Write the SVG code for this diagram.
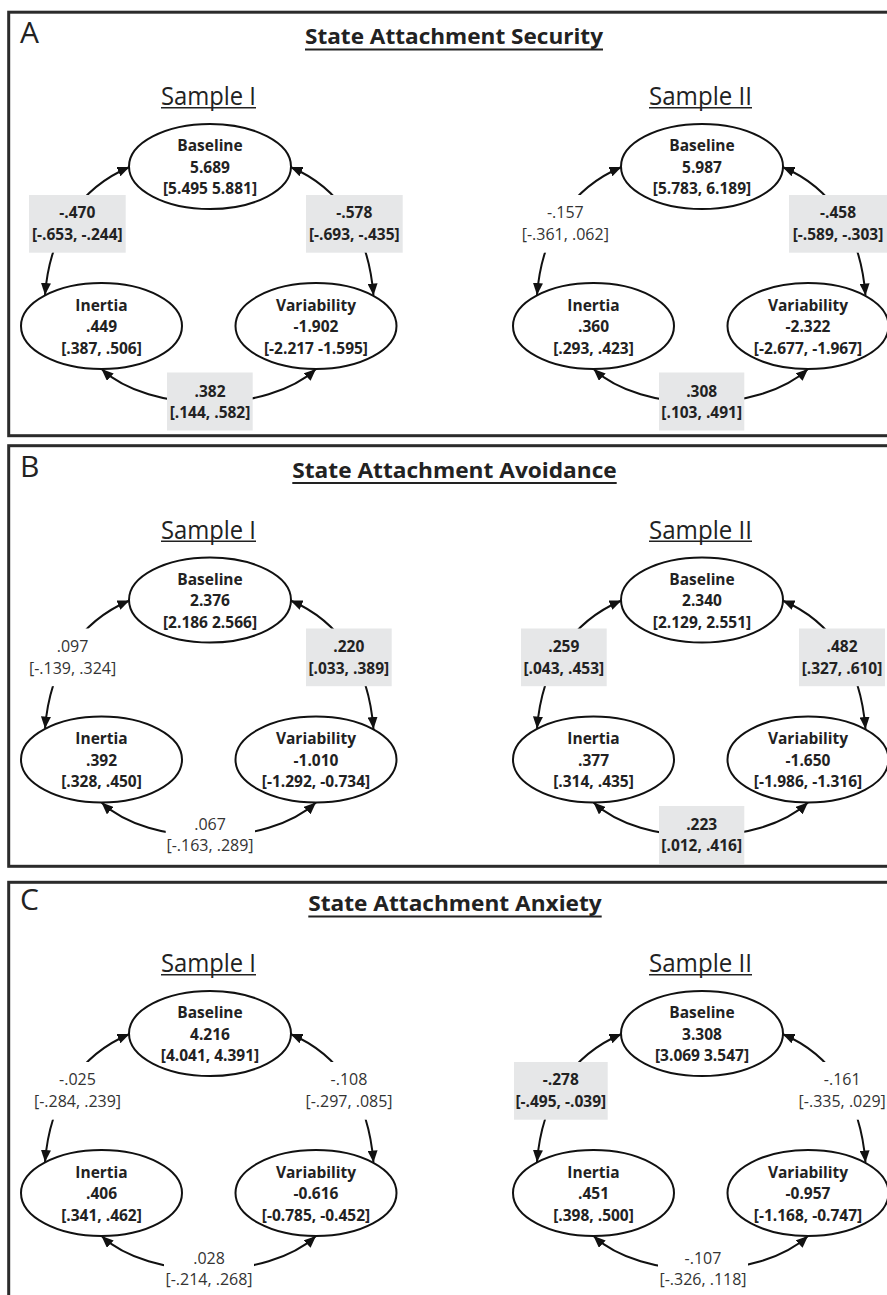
<svg xmlns="http://www.w3.org/2000/svg" width="887" height="1295" viewBox="0 0 887 1295">
<defs>
<style>
.border{fill:none;stroke:#2b2b2b;stroke-width:3}
.node ellipse{fill:#fff;stroke:#111;stroke-width:2}
.nt{font-family:"Open Sans","Noto Sans",sans-serif;font-weight:700;font-size:15.5px;fill:#222;text-anchor:middle}
.lbb{font-family:"Open Sans","Noto Sans",sans-serif;font-weight:700;font-size:15.5px;fill:#222;text-anchor:middle}
.lbp{font-family:"Open Sans","Noto Sans",sans-serif;font-weight:400;font-size:16px;fill:#333;text-anchor:middle}
.edge{fill:none;stroke:#111;stroke-width:2;marker-start:url(#ah);marker-end:url(#ah)}
.gb{fill:#e6e7e8}
.wb{fill:#fff}
.pl{font-family:"Open Sans","Noto Sans",sans-serif;font-size:30px;fill:#222}
.ttl{font-family:"Open Sans","Noto Sans",sans-serif;font-weight:700;font-size:22px;fill:#222;text-anchor:middle}
.smp{font-family:"Open Sans","Noto Sans",sans-serif;font-weight:400;font-size:25px;fill:#222;text-anchor:middle}
.ul2{stroke:#222;stroke-width:2}
.ul1{stroke:#222;stroke-width:1.5}
</style>
<marker id="ah" viewBox="0 0 12 10" refX="12" refY="5" markerWidth="12" markerHeight="10" markerUnits="userSpaceOnUse" orient="auto-start-reverse">
<path d="M0,0 L12,5 L0,10 z" fill="#111"/>
</marker>
</defs>
<rect width="887" height="1295" fill="#fff"/>

<g id="borders">
<rect class="border" x="8.7" y="12.2" width="900" height="423.5"/>
<rect class="border" x="8.7" y="445.7" width="900" height="420.6"/>
<rect class="border" x="8.7" y="882.3" width="900" height="500"/>
</g>

<!-- Panel A -->
<g id="panelA">
<text class="pl" x="20" y="42.5">A</text>
<text class="ttl" x="454" y="44.3" textLength="298" lengthAdjust="spacingAndGlyphs">State Attachment Security</text>
<line class="ul2" x1="305" y1="49.5" x2="603" y2="49.5"/>
<text class="smp" x="208.5" y="105" textLength="95" lengthAdjust="spacingAndGlyphs">Sample I</text>
<line class="ul1" x1="161" y1="107.8" x2="256" y2="107.8"/>
<text class="smp" x="700.5" y="105" textLength="103" lengthAdjust="spacingAndGlyphs">Sample II</text>
<line class="ul1" x1="649" y1="107.8" x2="752" y2="107.8"/>
<g id="A-connectors">
<path class="edge" d="M45,295 C50,232 80,188 129.5,167"/>
<path class="edge" d="M290.5,167 C340,188 368.5,232 373.5,295.5"/>
<path class="edge" d="M101.5,369 C150,414 267,414 316,369"/>
<g transform="translate(492,0)">
<path class="edge" d="M45,295 C50,232 80,188 129.5,167"/>
<path class="edge" d="M290.5,167 C340,188 368.5,232 373.5,295.5"/>
<path class="edge" d="M101.5,369 C150,414 267,414 316,369"/>
</g>
<rect class="gb" x="29" y="195" width="96.7" height="57.7"/><text class="lbb" x="77.3" y="218.3">-.470</text><text class="lbb" x="77.3" y="240">[-.653, -.244]</text>
<rect class="gb" x="306" y="195" width="96.7" height="57.7"/><text class="lbb" x="354.3" y="218.3">-.578</text><text class="lbb" x="354.3" y="240">[-.693, -.435]</text>
<rect class="gb" x="167" y="372.5" width="85.7" height="58"/><text class="lbb" x="210" y="396.7">.382</text><text class="lbb" x="210" y="417.7">[.144, .582]</text>
<rect class="wb" x="519.3" y="195" width="92" height="57.7"/><text class="lbp" x="565.3" y="218.3">-.157</text><text class="lbp" x="565.3" y="240">[-.361, .062]</text>
<rect class="gb" x="789" y="195" width="98" height="57.7"/><text class="lbb" x="838" y="218.3">-.458</text><text class="lbb" x="838" y="240">[-.589, -.303]</text>
<rect class="gb" x="659" y="372.5" width="85.3" height="58"/><text class="lbb" x="701.7" y="396.7">.308</text><text class="lbb" x="701.7" y="417.7">[.103, .491]</text>
</g>
<g id="A1-baseline" class="node"><ellipse cx="210" cy="166.5" rx="81" ry="42.5"/><text class="nt" x="210" y="151.2">Baseline</text><text class="nt" x="210" y="172.5">5.689</text><text class="nt" x="210" y="194">[5.495 5.881]</text></g>
<g id="A1-inertia" class="node"><ellipse cx="101.5" cy="326" rx="80.5" ry="43"/><text class="nt" x="101.5" y="310.8">Inertia</text><text class="nt" x="101.5" y="332">.449</text><text class="nt" x="101.5" y="353.5">[.387, .506]</text></g>
<g id="A1-variability" class="node"><ellipse cx="316" cy="326" rx="80.5" ry="43"/><text class="nt" x="316" y="310.8">Variability</text><text class="nt" x="316" y="332">-1.902</text><text class="nt" x="316" y="353.5">[-2.217 -1.595]</text></g>
<g transform="translate(492,0)">
<g id="A2-baseline" class="node"><ellipse cx="210" cy="166.5" rx="81" ry="42.5"/><text class="nt" x="210" y="151.2">Baseline</text><text class="nt" x="210" y="172.5">5.987</text><text class="nt" x="210" y="194">[5.783, 6.189]</text></g>
<g id="A2-inertia" class="node"><ellipse cx="101.5" cy="326" rx="80.5" ry="43"/><text class="nt" x="101.5" y="310.8">Inertia</text><text class="nt" x="101.5" y="332">.360</text><text class="nt" x="101.5" y="353.5">[.293, .423]</text></g>
<g id="A2-variability" class="node"><ellipse cx="316" cy="326" rx="80.5" ry="43"/><text class="nt" x="316" y="310.8">Variability</text><text class="nt" x="316" y="332">-2.322</text><text class="nt" x="316" y="353.5">[-2.677, -1.967]</text></g>
</g>
</g>

<!-- Panel B -->
<g id="panelB" transform="translate(0,433.5)">
<text class="pl" x="20" y="43">B</text>
<text class="ttl" x="454.5" y="44.3" textLength="324.4" lengthAdjust="spacingAndGlyphs">State Attachment Avoidance</text>
<line class="ul2" x1="292.3" y1="49.5" x2="616.7" y2="49.5"/>
<text class="smp" x="208.5" y="105" textLength="95" lengthAdjust="spacingAndGlyphs">Sample I</text>
<line class="ul1" x1="161" y1="107.8" x2="256" y2="107.8"/>
<text class="smp" x="700.5" y="105" textLength="103" lengthAdjust="spacingAndGlyphs">Sample II</text>
<line class="ul1" x1="649" y1="107.8" x2="752" y2="107.8"/>
<g id="B-connectors">
<path class="edge" d="M45,295 C50,232 80,188 129.5,167"/>
<path class="edge" d="M290.5,167 C340,188 368.5,232 373.5,295.5"/>
<path class="edge" d="M101.5,369 C150,414 267,414 316,369"/>
<g transform="translate(492,0)">
<path class="edge" d="M45,295 C50,232 80,188 129.5,167"/>
<path class="edge" d="M290.5,167 C340,188 368.5,232 373.5,295.5"/>
<path class="edge" d="M101.5,369 C150,414 267,414 316,369"/>
</g>
<rect class="wb" x="26.6" y="195" width="92" height="57.7"/><text class="lbp" x="72.6" y="218.3">.097</text><text class="lbp" x="72.6" y="240">[-.139, .324]</text>
<rect class="gb" x="306" y="195" width="85.7" height="57.7"/><text class="lbb" x="348.8" y="218.3">.220</text><text class="lbb" x="348.8" y="240">[.033, .389]</text>
<rect class="wb" x="165.7" y="372.5" width="89.3" height="58"/><text class="lbp" x="210" y="396.7">.067</text><text class="lbp" x="210" y="417.7">[-.163, .289]</text>
<rect class="gb" x="521" y="195" width="85.7" height="57.7"/><text class="lbb" x="563.8" y="218.3">.259</text><text class="lbb" x="563.8" y="240">[.043, .453]</text>
<rect class="gb" x="799" y="195" width="86" height="57.7"/><text class="lbb" x="842" y="218.3">.482</text><text class="lbb" x="842" y="240">[.327, .610]</text>
<rect class="gb" x="659" y="372.5" width="85.3" height="58"/><text class="lbb" x="701.7" y="396.7">.223</text><text class="lbb" x="701.7" y="417.7">[.012, .416]</text>
</g>
<g id="B1-baseline" class="node"><ellipse cx="210" cy="166.5" rx="81" ry="42.5"/><text class="nt" x="210" y="151.2">Baseline</text><text class="nt" x="210" y="172.5">2.376</text><text class="nt" x="210" y="194">[2.186 2.566]</text></g>
<g id="B1-inertia" class="node"><ellipse cx="101.5" cy="326" rx="80.5" ry="43"/><text class="nt" x="101.5" y="310.8">Inertia</text><text class="nt" x="101.5" y="332">.392</text><text class="nt" x="101.5" y="353.5">[.328, .450]</text></g>
<g id="B1-variability" class="node"><ellipse cx="316" cy="326" rx="80.5" ry="43"/><text class="nt" x="316" y="310.8">Variability</text><text class="nt" x="316" y="332">-1.010</text><text class="nt" x="316" y="353.5">[-1.292, -0.734]</text></g>
<g transform="translate(492,0)">
<g id="B2-baseline" class="node"><ellipse cx="210" cy="166.5" rx="81" ry="42.5"/><text class="nt" x="210" y="151.2">Baseline</text><text class="nt" x="210" y="172.5">2.340</text><text class="nt" x="210" y="194">[2.129, 2.551]</text></g>
<g id="B2-inertia" class="node"><ellipse cx="101.5" cy="326" rx="80.5" ry="43"/><text class="nt" x="101.5" y="310.8">Inertia</text><text class="nt" x="101.5" y="332">.377</text><text class="nt" x="101.5" y="353.5">[.314, .435]</text></g>
<g id="B2-variability" class="node"><ellipse cx="316" cy="326" rx="80.5" ry="43"/><text class="nt" x="316" y="310.8">Variability</text><text class="nt" x="316" y="332">-1.650</text><text class="nt" x="316" y="353.5">[-1.986, -1.316]</text></g>
</g>
</g>

<!-- Panel C -->
<g id="panelC" transform="translate(0,867)">
<text class="pl" x="20" y="43">C</text>
<text class="ttl" x="455" y="44.3" textLength="293.4" lengthAdjust="spacingAndGlyphs">State Attachment Anxiety</text>
<line class="ul2" x1="308.3" y1="49.5" x2="601.7" y2="49.5"/>
<text class="smp" x="208.5" y="105" textLength="95" lengthAdjust="spacingAndGlyphs">Sample I</text>
<line class="ul1" x1="161" y1="107.8" x2="256" y2="107.8"/>
<text class="smp" x="700.5" y="105" textLength="103" lengthAdjust="spacingAndGlyphs">Sample II</text>
<line class="ul1" x1="649" y1="107.8" x2="752" y2="107.8"/>
<g id="C-connectors">
<path class="edge" d="M45,295 C50,232 80,188 129.5,167"/>
<path class="edge" d="M290.5,167 C340,188 368.5,232 373.5,295.5"/>
<path class="edge" d="M101.5,369 C150,414 267,414 316,369"/>
<g transform="translate(492,0)">
<path class="edge" d="M45,295 C50,232 80,188 129.5,167"/>
<path class="edge" d="M290.5,167 C340,188 368.5,232 373.5,295.5"/>
<path class="edge" d="M101.5,369 C150,414 267,414 316,369"/>
</g>
<rect class="wb" x="29" y="195" width="97" height="57.7"/><text class="lbp" x="77.5" y="218.3">-.025</text><text class="lbp" x="77.5" y="240">[-.284, .239]</text>
<rect class="wb" x="304" y="195" width="90" height="57.7"/><text class="lbp" x="349" y="218.3">-.108</text><text class="lbp" x="349" y="240">[-.297, .085]</text>
<rect class="wb" x="164" y="372.5" width="90" height="58"/><text class="lbp" x="209" y="396.7">.028</text><text class="lbp" x="209" y="417.7">[-.214, .268]</text>
<rect class="gb" x="514" y="195" width="93.7" height="57.7"/><text class="lbb" x="560.8" y="218.3">-.278</text><text class="lbb" x="560.8" y="240">[-.495, -.039]</text>
<rect class="wb" x="797" y="195" width="90" height="57.7"/><text class="lbp" x="842.2" y="218.3">-.161</text><text class="lbp" x="842.2" y="240">[-.335, .029]</text>
<rect class="wb" x="658" y="372.5" width="90" height="58"/><text class="lbp" x="703" y="396.7">-.107</text><text class="lbp" x="703" y="417.7">[-.326, .118]</text>
</g>
<g id="C1-baseline" class="node"><ellipse cx="210" cy="166.5" rx="81" ry="42.5"/><text class="nt" x="210" y="151.2">Baseline</text><text class="nt" x="210" y="172.5">4.216</text><text class="nt" x="210" y="194">[4.041, 4.391]</text></g>
<g id="C1-inertia" class="node"><ellipse cx="101.5" cy="326" rx="80.5" ry="43"/><text class="nt" x="101.5" y="310.8">Inertia</text><text class="nt" x="101.5" y="332">.406</text><text class="nt" x="101.5" y="353.5">[.341, .462]</text></g>
<g id="C1-variability" class="node"><ellipse cx="316" cy="326" rx="80.5" ry="43"/><text class="nt" x="316" y="310.8">Variability</text><text class="nt" x="316" y="332">-0.616</text><text class="nt" x="316" y="353.5">[-0.785, -0.452]</text></g>
<g transform="translate(492,0)">
<g id="C2-baseline" class="node"><ellipse cx="210" cy="166.5" rx="81" ry="42.5"/><text class="nt" x="210" y="151.2">Baseline</text><text class="nt" x="210" y="172.5">3.308</text><text class="nt" x="210" y="194">[3.069 3.547]</text></g>
<g id="C2-inertia" class="node"><ellipse cx="101.5" cy="326" rx="80.5" ry="43"/><text class="nt" x="101.5" y="310.8">Inertia</text><text class="nt" x="101.5" y="332">.451</text><text class="nt" x="101.5" y="353.5">[.398, .500]</text></g>
<g id="C2-variability" class="node"><ellipse cx="316" cy="326" rx="80.5" ry="43"/><text class="nt" x="316" y="310.8">Variability</text><text class="nt" x="316" y="332">-0.957</text><text class="nt" x="316" y="353.5">[-1.168, -0.747]</text></g>
</g>
</g>
</svg>
